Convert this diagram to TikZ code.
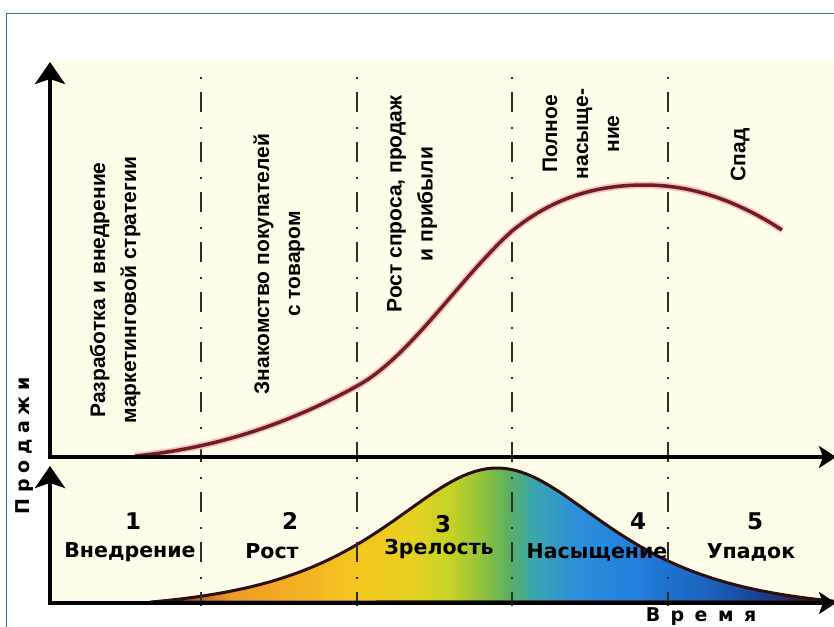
\documentclass[tikz,border=0pt]{standalone}
\usepackage{fontspec}
\setmainfont{Liberation Sans}
\newfontfamily\stagefont{DejaVu Sans}
\usepackage{tikz}
\usetikzlibrary{arrows.meta}

\definecolor{cream}{RGB}{255,252,234}
\definecolor{frameblue}{RGB}{46,116,181}
\definecolor{salesred}{RGB}{112,30,32}
\definecolor{salesglow}{RGB}{246,196,192}
\definecolor{bellline}{RGB}{45,14,14}
\definecolor{divgray}{RGB}{45,45,45}

% colours under the bell, left to right
\pgfdeclarehorizontalshading{bellshade}{100bp}{
  rgb(0bp)=(0.35,0.15,0.08); rgb(25bp)=(0.35,0.15,0.08);
  rgb(30.8bp)=(0.93,0.6,0.15); rgb(36bp)=(0.96,0.7,0.14);
  rgb(40.3bp)=(0.95,0.78,0.12); rgb(44bp)=(0.9,0.82,0.12);
  rgb(46.9bp)=(0.77,0.82,0.16); rgb(49.1bp)=(0.56,0.76,0.23);
  rgb(51bp)=(0.36,0.69,0.38); rgb(52.8bp)=(0.23,0.65,0.69);
  rgb(55.7bp)=(0.18,0.56,0.85); rgb(60.1bp)=(0.13,0.5,0.86);
  rgb(65.2bp)=(0.11,0.39,0.75); rgb(69.6bp)=(0.1,0.24,0.55);
  rgb(72.5bp)=(0.23,0.1,0.19); rgb(75bp)=(0.16,0.04,0.04);
  rgb(100bp)=(0.16,0.04,0.04)}

\begin{document}
\begin{tikzpicture}[x=1pt,y=-1pt,
    axisline/.style={line width=4pt,
      {Stealth[length=22pt,width=30pt,inset=5pt]}-{Stealth[length=17pt,width=22pt,inset=4pt]}},
    divider/.style={line width=2.6pt,divgray,dash pattern=on 2pt off 13pt on 20pt off 15pt},
    phase/.style={rotate=90,align=center,inner sep=0pt,
      font=\fontsize{21}{31}\selectfont\bfseries},
    num/.style={inner sep=0pt,font=\stagefont\fontsize{23}{23}\selectfont\bfseries},
    stage/.style={inner sep=0pt,font=\stagefont\fontsize{20.5}{22}\selectfont\bfseries},
    axlabel/.style={inner sep=0pt,
      font=\stagefont\fontsize{19}{19}\selectfont\bfseries\addfontfeature{LetterSpace=#1}}]
        \useasboundingbox (0,0) rectangle (834,626);
        \clip (0,0) rectangle (834,626);

        \fill[cream] (50,60) rectangle (834,603);
        \draw[frameblue,line width=1.5pt] (6.5,13.5) rectangle (860,660);

        % stages curve
        \shade[shading=bellshade,draw=bellline,line width=3pt]
            plot[domain=150:840,samples=120] (\x,{603-(143/cosh((\x-497)/100)-8)}) -- cycle;

        \foreach \x in {201,357,512,668}
            \draw[divider] (\x,77) -- (\x,606);

        % sales curve
        \draw[salesred,line width=3.5pt,preaction={draw,salesglow,line width=7pt}]
            (135,456) .. controls (209,449) and (283,427) .. (357,386)
                      .. controls (409,358) and (460,278) .. (512,231)
                      .. controls (556,195) and (601,185) .. (645,185)
                      .. controls (691,185) and (736,200) .. (782,230);

        \coordinate (o1) at (50,457);
        \coordinate (ytip1) at (50,62);
        \coordinate (xtip1) at (836,457);
        \coordinate (o2) at (50,603);
        \coordinate (ytip2) at (50,466);
        \coordinate (xtip2) at (836,603);
        \draw[axisline] (ytip1) -- (o1) -- (xtip1);
        \draw[axisline] (ytip2) -- (o2) -- (xtip2);

        \node[phase] (p1) at (115,290) {Разработка и внедрение\\маркетинговой стратегии};
        \node[phase] (p2) at (279,264) {Знакомство покупателей\\с товаром};
        \node[phase] (p3) at (412,204) {Рост спроса, продаж\\и прибыли};
        \node[phase] (p4) at (581,134) {Полное\\насыще-\\ние};
        \node[phase] (p5) at (740,155) {Спад};

        \node[num] (n1) at (133,521) {1};
        \node[num] (n2) at (290,521) {2};
        \node[num] (n3) at (443,524) {3};
        \node[num] (n4) at (638,521) {4};
        \node[num] (n5) at (755,521) {5};

        \node[stage] (s1) at (130,552) {Внедрение};
        \node[stage] (s2) at (272,551) {Рост};
        \node[stage] (s3) at (439,549) {Зрелость};
        \node[stage] (s4) at (597,552) {Насыщение};
        \node[stage] (s5) at (751,552) {Упадок};

        \node[axlabel=30,rotate=90] (ylab) at (25,446) {Продажи};
        \node[axlabel=55] (xlab) at (701,617) {Время};
\end{tikzpicture}
\end{document}
